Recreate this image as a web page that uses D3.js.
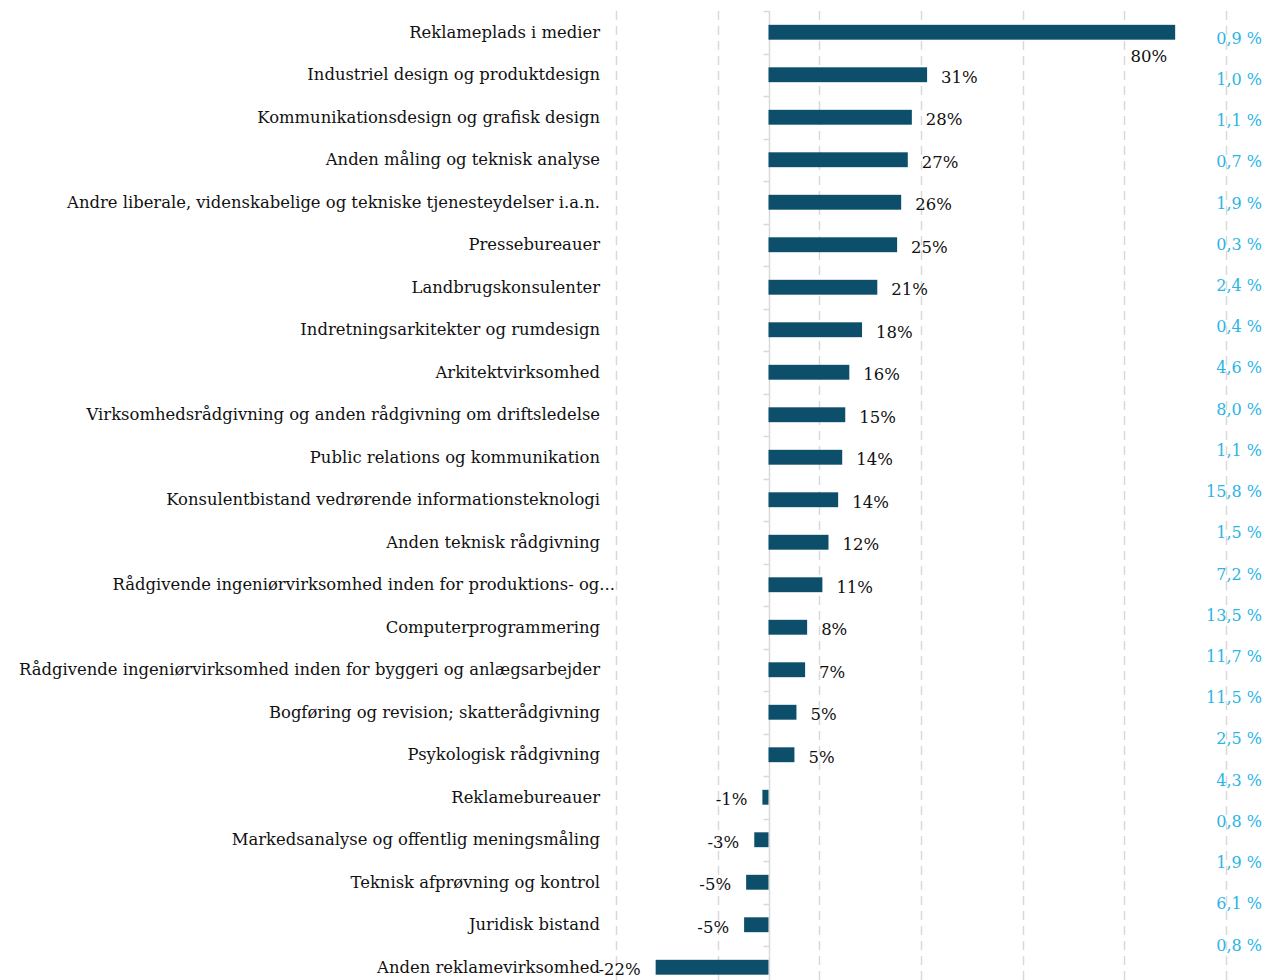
<!DOCTYPE html>
<html>
<head>
<meta charset="utf-8">
<script src="https://cdn.jsdelivr.net/npm/d3@7/dist/d3.min.js"></script>
<style>
	body{margin:0;background:#fff;}
	svg{display:block;}
</style>
</head>
<body>
<svg id="chart" width="1266" height="980"></svg>
<script>
// categories, top to bottom
var categories = [
	"Reklameplads i medier",
	"Industriel design og produktdesign",
	"Kommunikationsdesign og grafisk design",
	"Anden måling og teknisk analyse",
	"Andre liberale, videnskabelige og tekniske tjenesteydelser i.a.n.",
	"Pressebureauer",
	"Landbrugskonsulenter",
	"Indretningsarkitekter og rumdesign",
	"Arkitektvirksomhed",
	"Virksomhedsrådgivning og anden rådgivning om driftsledelse",
	"Public relations og kommunikation",
	"Konsulentbistand vedrørende informationsteknologi",
	"Anden teknisk rådgivning",
	"Rådgivende ingeniørvirksomhed inden for produktions- og...",
	"Computerprogrammering",
	"Rådgivende ingeniørvirksomhed inden for byggeri og anlægsarbejder",
	"Bogføring og revision; skatterådgivning",
	"Psykologisk rådgivning",
	"Reklamebureauer",
	"Markedsanalyse og offentlig meningsmåling",
	"Teknisk afprøvning og kontrol",
	"Juridisk bistand",
	"Anden reklamevirksomhed"
];

// growth in percent
var growth = [80, 31.2, 28.2, 27.4, 26.1, 25.3, 21.4, 18.4, 15.9, 15.1, 14.5, 13.7, 11.8, 10.6,
	7.6, 7.2, 5.5, 5.1, -1.2, -2.8, -4.4, -4.8, -22.2];
var growthLabels = ["80%","31%","28%","27%","26%","25%","21%","18%","16%","15%","14%","14%","12%","11%",
	"8%","7%","5%","5%","-1%","-3%","-5%","-5%","-22%"];

// share column on the right
var shareLabels = ["0,9 %","1,0 %","1,1 %","0,7 %","1,9 %","0,3 %","2,4 %","0,4 %","4,6 %","8,0 %","1,1 %",
	"15,8 %","1,5 %","7,2 %","13,5 %","11,7 %","11,5 %","2,5 %","4,3 %","0,8 %","1,9 %","6,1 %","0,8 %"];

var xDomain = [-30, 90];
var gridTicks = [-30, -10, 10, 30, 50, 70, 90];

var font = "'DejaVu Serif', Georgia, serif";
var barColor = "#0d4f6b";
var shareColor = "#2bb5e6";
var gridColor = "#d9d9d9";
var textColor = "#111";
var labelSize = 16.4;

var svg = d3.select("#chart");

var plotTop = 11, step = 42.5;

var x = d3.scaleLinear().domain(xDomain).range([616, 1226]);
var y = d3.scaleBand()
	.domain(categories)
	.range([plotTop, plotTop + step*categories.length])
	.paddingInner(0.65)
	.paddingOuter(0.325);

var yShare = d3.scalePoint().domain(shareLabels.map(function(d,i){return i;})).range([38, 945]);

// dashed gridlines
svg.append("g").selectAll("line")
	.data(gridTicks)
	.enter().append("line")
	.attr("x1", function(d){return Math.round(x(d))+0.5;})
	.attr("x2", function(d){return Math.round(x(d))+0.5;})
	.attr("y1", plotTop)
	.attr("y2", 980)
	.attr("stroke", gridColor)
	.attr("stroke-width", 1.5)
	.attr("stroke-dasharray", "9,6");

// zero axis with ticks between categories
var x0 = Math.round(x(0))+0.5;
var axis = svg.append("g");
axis.append("line")
	.attr("x1", x0).attr("x2", x0)
	.attr("y1", plotTop).attr("y2", 980)
	.attr("stroke", gridColor).attr("stroke-width", 1.5);
axis.selectAll("line.tick")
	.data(d3.range(categories.length+1))
	.enter().append("line")
	.attr("class","tick")
	.attr("x1", x0-6).attr("x2", x0)
	.attr("y1", function(i){return Math.round(plotTop + i*y.step())+0.5;})
	.attr("y2", function(i){return Math.round(plotTop + i*y.step())+0.5;})
	.attr("stroke", gridColor).attr("stroke-width", 1.5);

// bars
svg.append("g").selectAll("rect")
	.data(categories)
	.enter().append("rect")
	.attr("x", function(d,i){return x(Math.min(0, growth[i]));})
	.attr("width", function(d,i){return Math.abs(x(growth[i]) - x(0));})
	.attr("y", function(d){return y(d);})
	.attr("height", y.bandwidth())
	.attr("fill", barColor);

// category labels (the cut one runs a bit past the others, as in excel)
svg.append("g").selectAll("text")
	.data(categories)
	.enter().append("text")
	.attr("x", function(d){return /\.\.\.$/.test(d) ? 615 : 600;})
	.attr("y", function(d){return y(d) + y.bandwidth()/2;})
	.attr("dy", "0.35em")
	.attr("text-anchor", "end")
	.attr("font-family", font)
	.attr("font-size", labelSize)
	.attr("fill", textColor)
	.text(function(d){return d;});

// value labels
svg.append("g").selectAll("text")
	.data(categories)
	.enter().append("text")
	.attr("x", function(d,i){
		var v = growth[i];
		if(v >= 60) return x(v) - 8;
		return v >= 0 ? x(v) + 14 : x(v) - 15;
	})
	.attr("y", function(d,i){
		var c = y(d) + y.bandwidth()/2 + 2;
		return growth[i] >= 60 ? c + 22 : c;
	})
	.attr("dy", "0.35em")
	.attr("text-anchor", function(d,i){return growth[i] >= 0 && growth[i] < 60 ? "start" : "end";})
	.attr("font-family", font)
	.attr("font-size", 16.5)
	.attr("fill", textColor)
	.text(function(d,i){return growthLabels[i];});

// share column
svg.append("g").selectAll("text")
	.data(shareLabels)
	.enter().append("text")
	.attr("x", 1262)
	.attr("y", function(d,i){return yShare(i);})
	.attr("dy", "0.35em")
	.attr("text-anchor", "end")
	.attr("font-family", font)
	.attr("font-size", 16)
	.attr("fill", shareColor)
	.text(function(d){return d;});
</script>
</body>
</html>
